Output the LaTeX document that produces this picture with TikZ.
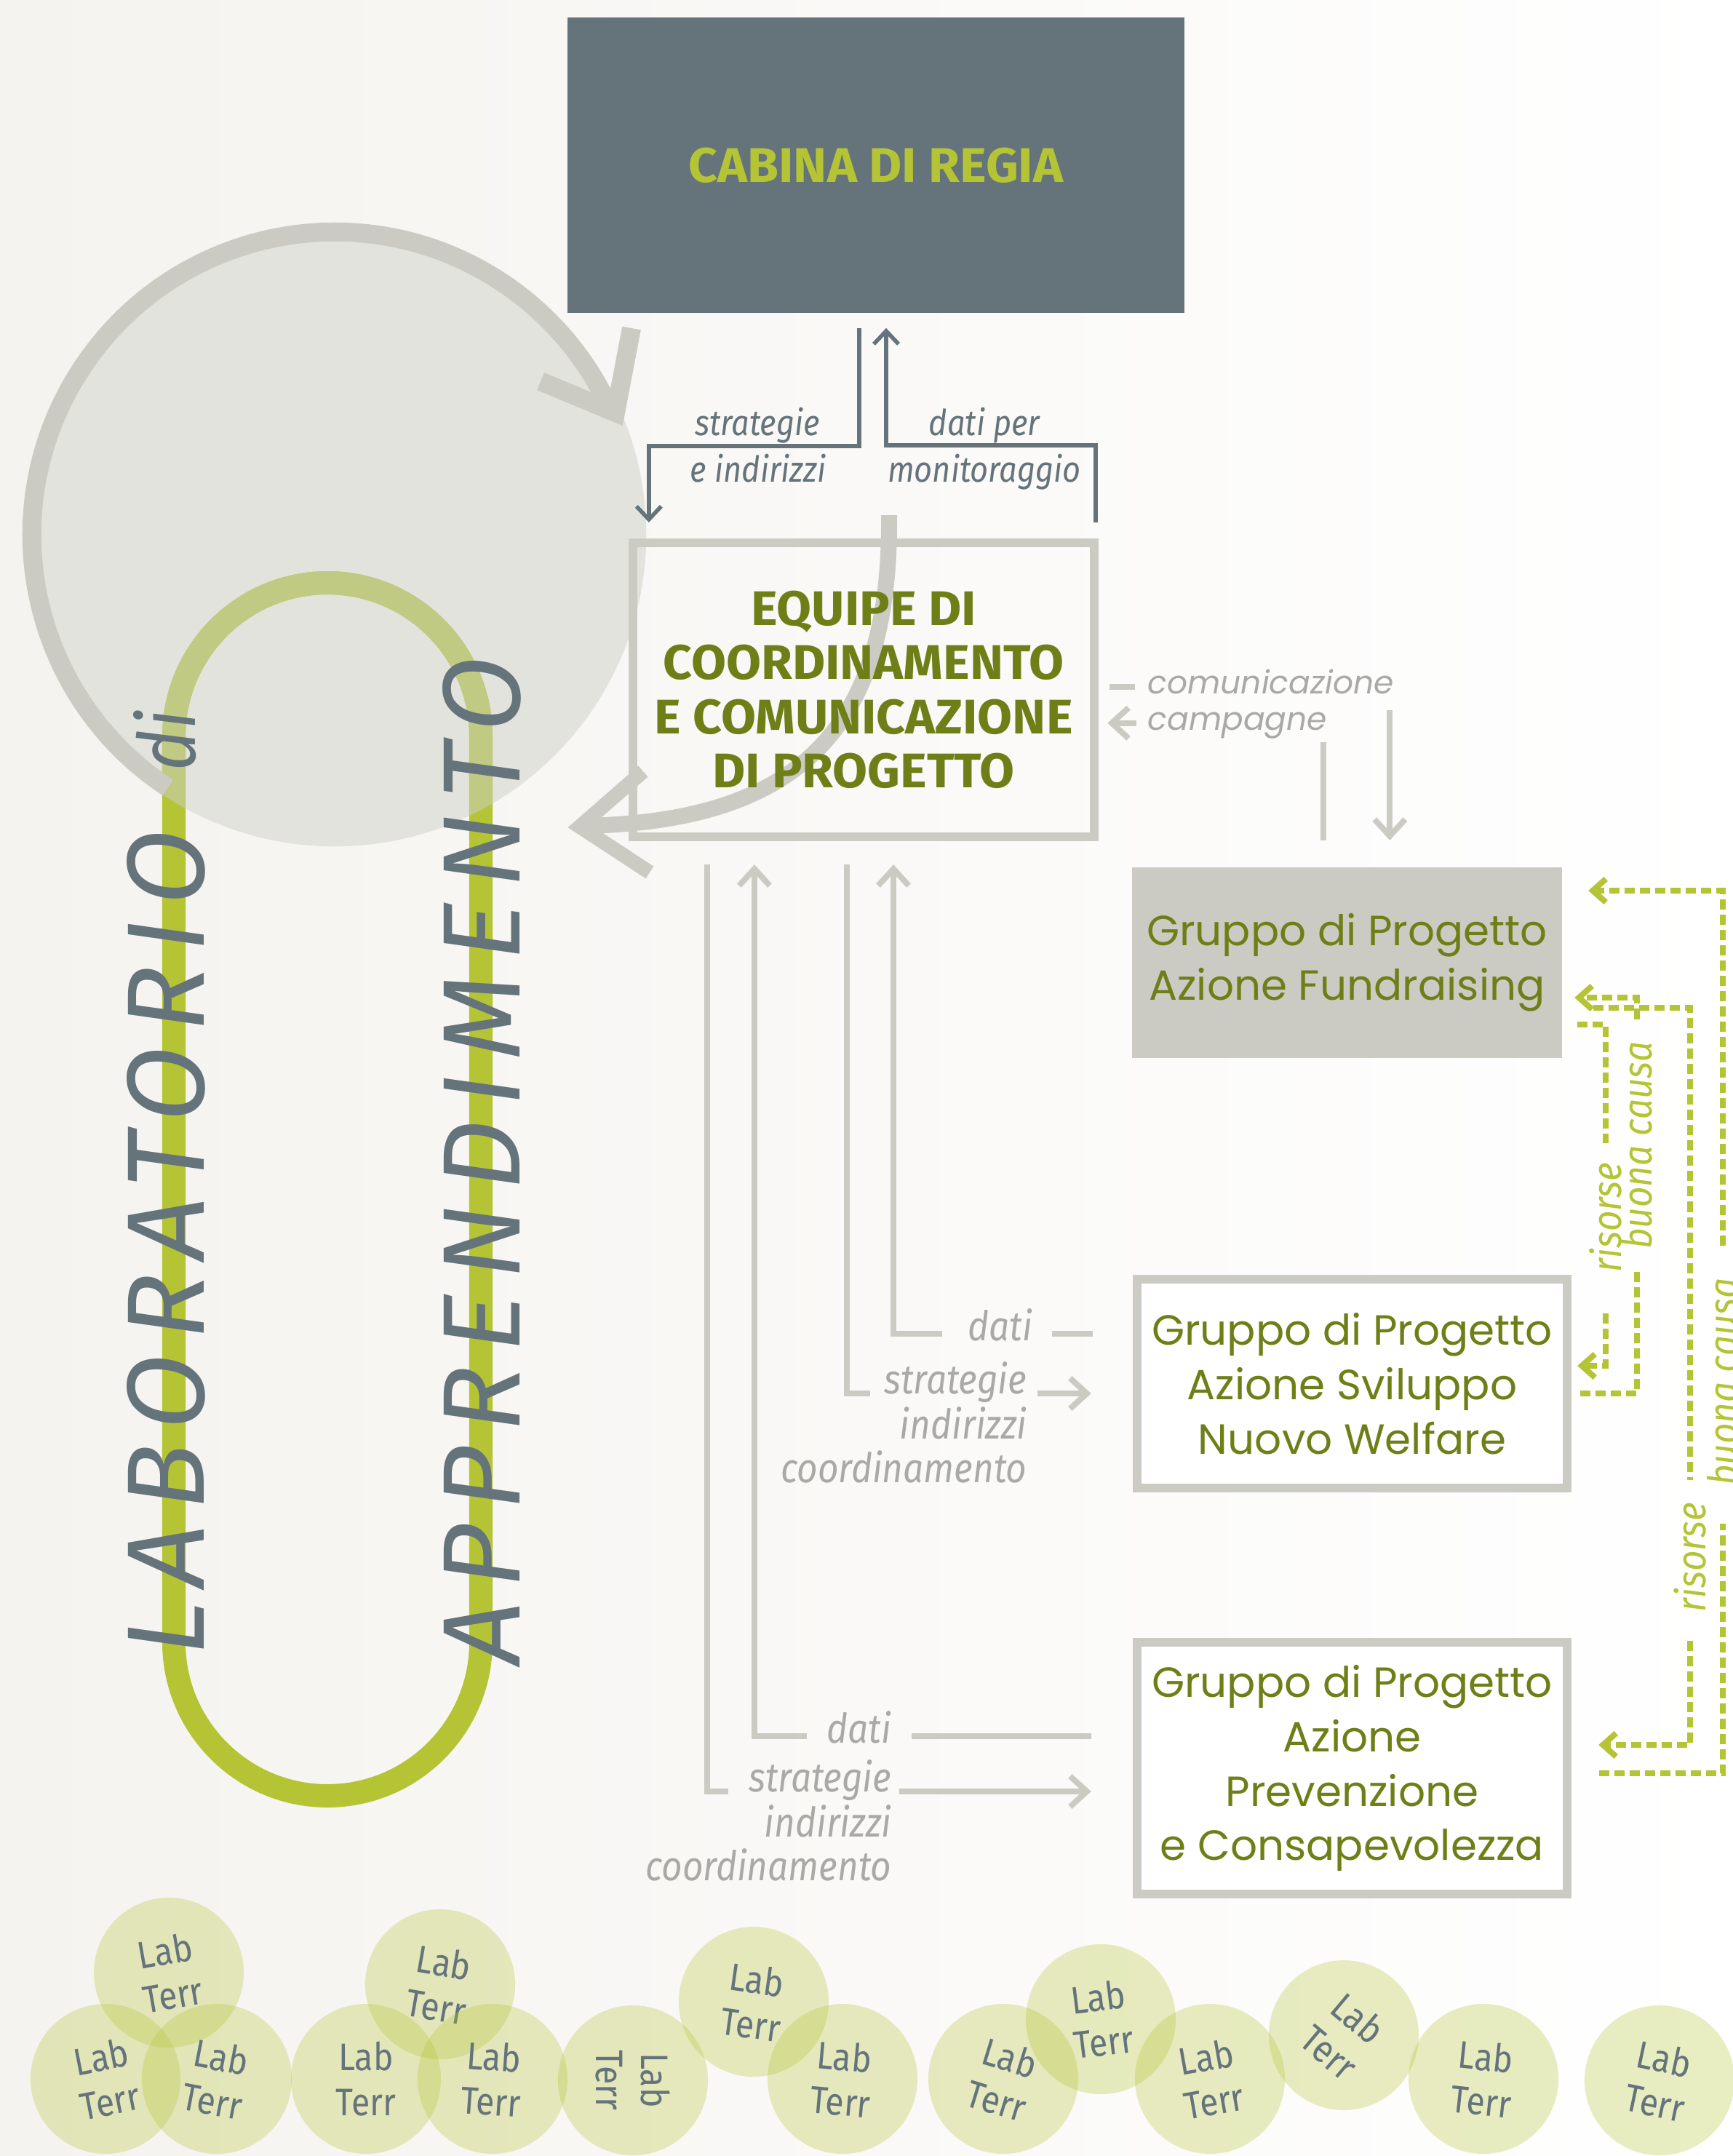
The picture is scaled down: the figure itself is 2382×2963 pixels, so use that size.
\documentclass[tikz,border=0pt]{standalone}
\usepackage{fontspec}
\setmainfont{Fira Sans}
\newfontfamily\headfont[FakeStretch=1.04]{Fira Sans}
\newfontfamily\condfont[FakeStretch=0.88]{Fira Sans}
\newfontfamily\geofont{Poppins}
\definecolor{darkslate}{RGB}{101, 115, 123}
\definecolor{paleline}{RGB}{204, 203, 195}
\definecolor{palefill}{RGB}{227, 227, 222}
\definecolor{lime}{RGB}{181, 196, 53}
\definecolor{limesoft}{RGB}{193, 202, 130}
\definecolor{olive}{RGB}{111, 127, 24}
\definecolor{softtext}{RGB}{169, 169, 166}
\definecolor{bgwarm}{RGB}{245, 243, 239}
\usetikzlibrary{shapes,arrows.meta,positioning,calc}

\begin{document}
\begin{tikzpicture}[x=0.01cm, y=-0.01cm,
    box_regia/.style={rectangle, fill=darkslate, minimum width=8.48cm, minimum height=4.06cm, text=lime, font=\headfont\bfseries\fontsize{19}{21}\selectfont},
    box_equipe/.style={rectangle, draw=paleline, line width=0.12cm, minimum width=6.34cm, minimum height=4.03cm, align=center, text=olive, font=\headfont\bfseries\fontsize{19}{21.2}\selectfont},
    box_gruppo/.style={rectangle, draw=paleline, line width=0.12cm, fill=white, minimum width=5.91cm, align=center, text=olive, font=\geofont\fontsize{16.5}{21.3}\selectfont},
    lbl_dark/.style={text=darkslate, inner sep=0pt, font=\condfont\itshape\fontsize{14}{16}\selectfont},
    lbl_gray/.style={text=softtext, inner sep=0pt, align=right, font=\condfont\itshape\fontsize{16}{17}\selectfont},
    lbl_green/.style={text=lime, inner sep=0pt, rotate=90, font=\condfont\itshape\fontsize{16}{17}\selectfont},
    lbl_geo/.style={text=softtext, inner sep=0pt, font=\geofont\itshape\fontsize{12.5}{16}\selectfont},
    big_word/.style={text=darkslate, inner sep=0pt, rotate=90, font=\fontsize{43}{50}\selectfont\itshape\addfontfeatures{LetterSpace=13}},
    lab_terr/.style={circle, fill=lime, fill opacity=0.3, text opacity=1, minimum size=2.06cm, inner sep=0pt, align=center, text=darkslate, font=\condfont\fontsize{15}{17.5}\selectfont},
    line_dark/.style={draw=darkslate, line width=0.055cm, -{Straight Barb[length=0.18cm,width=0.34cm]}},
    line_gray/.style={draw=paleline, line width=0.08cm},
    arrow_gray/.style={line_gray, -{Straight Barb[length=0.23cm,width=0.42cm]}},
    dash_green/.style={draw=lime, line width=0.08cm, dash pattern=on 0.14cm off 0.07cm},
    arrow_green/.style={dash_green, -{Straight Barb[length=0.18cm,width=0.32cm]}}]

    \useasboundingbox (0,0) rectangle (2382,2963);
    \shade[left color=bgwarm, right color=white] (0,0) rectangle (2382,2963);

    % Ciclo di apprendimento
    \fill[palefill] (460,735) circle[radius=4.28cm];
    \draw[lime, line width=0.32cm, rounded corners=2.11cm] (239,801) rectangle (661,2468);
    \begin{scope}
        \clip (460,735) circle[radius=4.28cm];
        \draw[limesoft, line width=0.32cm, rounded corners=2.11cm] (239,801) rectangle (661,2468);
    \end{scope}
    \draw[paleline, line width=0.26cm] (460,735) ++(236.6:4.16cm) arc[start angle=236.6, end angle=23.5, radius=4.16cm];
    \draw[paleline, line width=0.26cm] (743,524) -- (846,567) -- (868,451);
    \draw[paleline, line width=0.22cm] (1222,708) .. controls (1225,1000) and (1100,1130) .. (800,1135);
    \draw[paleline, line width=0.2cm] (884,1060) -- (797,1136) -- (893,1199);

    % Livello di regia
    \node[box_regia] (cabina_regia) at (1204,227) {CABINA DI REGIA};
    \node[box_equipe] (equipe_coord) at (1187,948) {EQUIPE DI\\COORDINAMENTO\\E COMUNICAZIONE\\DI PROGETTO};

    % Gruppi di progetto
    \node[box_gruppo, fill=paleline, draw=none, outer sep=0pt, minimum height=2.62cm] (gruppo_fund) at (1851.5,1323) {Gruppo di Progetto\\Azione Fundraising};
    \node[box_gruppo, minimum height=2.87cm] (gruppo_svil) at (1858.5,1901.5) {Gruppo di Progetto\\Azione Sviluppo\\Nuovo Welfare};
    \node[box_gruppo, minimum height=3.46cm] (gruppo_prev) at (1858.5,2430) {Gruppo di Progetto\\Azione\\Prevenzione\\e Consapevolezza};

    % Regia <-> equipe
    \node[lbl_dark, anchor=base] (strat_top) at (1041,598) {strategie};
    \node[lbl_dark, anchor=base] (indir_top) at (1042,662) {e indirizzi};
    \node[lbl_dark, anchor=base] (dati_top) at (1353,598) {dati per};
    \node[lbl_dark, anchor=base] (monit_top) at (1353,662) {monitoraggio};
    \draw[line_dark] ([xshift=-0.23cm,yshift=-0.2cm]cabina_regia.south) -- ++(0,-1.62cm) -| ([xshift=-2.95cm,yshift=0.225cm]equipe_coord.north);
    \draw[line_dark] ([xshift=3.19cm,yshift=0.225cm]equipe_coord.north) -- ++(0,1.06cm) -| ([xshift=0.14cm,yshift=-0.2cm]cabina_regia.south);

    % Equipe <-> fundraising
    \node[lbl_geo, anchor=base west] (lbl_comm) at (1577,953) {comunicazione};
    \node[lbl_geo, anchor=base west] (lbl_camp) at (1577,1003) {campagne};
    \draw[line_gray, shorten <=0.15cm] (equipe_coord.east |- lbl_comm.mid) -- ([xshift=-0.17cm]lbl_comm.mid west);
    \coordinate (comm_down) at ([xshift=-0.06cm,yshift=-0.23cm]lbl_comm.base east);
    \draw[arrow_gray, shorten >=0.37cm] (comm_down) -- (comm_down |- gruppo_fund.north);
    \coordinate (camp_up) at ([xshift=-0.325cm]gruppo_fund.north);
    \coordinate (camp_end) at ([yshift=-0.17cm]lbl_camp.base east);
    \draw[line_gray, shorten <=0.37cm] (camp_up) -- (camp_up |- camp_end);
    \draw[arrow_gray, shorten >=0.12cm] ([xshift=-0.15cm]lbl_camp.mid west) -- (equipe_coord.east |- lbl_camp.mid);

    % Equipe <-> sviluppo
    \node[lbl_gray, anchor=base east] (dati_svil) at (1420,1842) {dati};
    \node[lbl_gray, anchor=base east] (strat_svil) at (1412,1915) {strategie};
    \node[lbl_gray, below left=0.05cm and 0cm of strat_svil.south east] (coord_svil) {indirizzi\\coordinamento};
    \draw[line_gray, shorten <=0.55cm] (gruppo_svil.west |- dati_svil.mid) -- ([xshift=0.26cm]dati_svil.mid east);
    \draw[arrow_gray] ([xshift=-0.35cm]dati_svil.mid west) -| ([xshift=0.41cm,yshift=-0.325cm]equipe_coord.south);
    \draw[line_gray] ([xshift=-0.23cm,yshift=-0.325cm]equipe_coord.south) |- ([xshift=-0.19cm]strat_svil.base west);
    \draw[arrow_gray, shorten >=0.57cm] ([xshift=0.14cm]strat_svil.base east) -- (gruppo_svil.west |- strat_svil.base);

    % Equipe <-> prevenzione
    \node[lbl_gray, anchor=base east] (dati_prev) at (1226,2395) {dati};
    \node[lbl_gray, anchor=base east] (strat_prev) at (1226,2462) {strategie};
    \node[lbl_gray, below left=0.05cm and 0cm of strat_prev.south east] (coord_prev) {indirizzi\\coordinamento};
    \draw[line_gray, shorten <=0.57cm] (gruppo_prev.west |- dati_prev.mid) -- ([xshift=0.27cm]dati_prev.mid east);
    \draw[arrow_gray] ([xshift=-0.27cm]dati_prev.mid west) -| ([xshift=-1.50cm,yshift=-0.325cm]equipe_coord.south);
    \draw[line_gray] ([xshift=-2.15cm,yshift=-0.325cm]equipe_coord.south) |- ([xshift=-0.28cm]strat_prev.base west);
    \draw[arrow_gray, shorten >=0.57cm] ([xshift=0.10cm]strat_prev.base east) -- (gruppo_prev.west |- strat_prev.base);

    % Risorse e buona causa
    \node[lbl_green] (ris_svil) at (2207,1673) {risorse};
    \node[lbl_green] (bc_svil) at (2250,1574) {buona causa};
    \node[lbl_green] (ris_prev) at (2323,2140) {risorse};
    \node[lbl_green] (bc_prev) at (2368,1899) {buona causa};
    \draw[dash_green] ([xshift=0.21cm,yshift=-0.85cm]gruppo_fund.east) -| ([yshift=0.26cm]ris_svil.east);
    \draw[arrow_green] ([yshift=-0.56cm]ris_svil.west) |- ([xshift=0.08cm,yshift=0.245cm]gruppo_svil.east);
    \draw[dash_green] ([xshift=0.12cm,yshift=-0.135cm]gruppo_svil.east) -| ([yshift=-0.3cm]bc_svil.west);
    \draw[arrow_green] ([yshift=0.3cm]bc_svil.east) |- ([xshift=0.17cm,yshift=-0.48cm]gruppo_fund.east);
    \draw[dash_green] ([xshift=0.43cm,yshift=-0.62cm]gruppo_fund.east) -| ([yshift=0.3cm]ris_prev.east);
    \draw[arrow_green] ([yshift=-0.39cm]ris_prev.west) |- ([xshift=0.37cm,yshift=0.32cm]gruppo_prev.east);
    \draw[dash_green] ([xshift=0.38cm,yshift=-0.07cm]gruppo_prev.east) -| ([yshift=-0.51cm]bc_prev.west);
    \draw[arrow_green] ([yshift=0.43cm]bc_prev.east) |- ([xshift=0.36cm,yshift=0.99cm]gruppo_fund.east);

    % Laboratorio di apprendimento
    \node[big_word, anchor=base west] (word_lab) at (280,2276) {LABORATORIO};
    \node[big_word, anchor=base west, font=\condfont\fontsize{31}{33}\selectfont\itshape] (word_di) at (268,1060) {di};
    \node[big_word, anchor=base west] (word_app) at (714,2288) {APPRENDIMENTO};

    % Laboratori territoriali
    \node[lab_terr, rotate=10] (lab_t1) at (232,2711) {Lab\\Terr};
    \node[lab_terr, rotate=-10] (lab_t2) at (605,2727) {Lab\\Terr};
    \node[lab_terr, rotate=-8] (lab_t3) at (1036,2751) {Lab\\Terr};
    \node[lab_terr, rotate=7] (lab_t4) at (1513,2775) {Lab\\Terr};
    \node[lab_terr, rotate=-40] (lab_t5) at (1847,2797) {Lab\\Terr};
    \node[lab_terr, rotate=11] (lab_t6) at (145,2857) {Lab\\Terr};
    \node[lab_terr, rotate=-11] (lab_t7) at (298,2857) {Lab\\Terr};
    \node[lab_terr] (lab_t8) at (503,2857) {Lab\\Terr};
    \node[lab_terr, rotate=-4] (lab_t9) at (677,2857) {Lab\\Terr};
    \node[lab_terr, rotate=-90] (lab_t10) at (870,2859) {Lab\\Terr};
    \node[lab_terr, rotate=-5] (lab_t11) at (1158,2857) {Lab\\Terr};
    \node[lab_terr, rotate=-17] (lab_t12) at (1379,2857) {Lab\\Terr};
    \node[lab_terr, rotate=10] (lab_t13) at (1663,2857) {Lab\\Terr};
    \node[lab_terr, rotate=-6] (lab_t14) at (2039,2857) {Lab\\Terr};
    \node[lab_terr, rotate=-12] (lab_t15) at (2281,2859) {Lab\\Terr};
\end{tikzpicture}
\end{document}
